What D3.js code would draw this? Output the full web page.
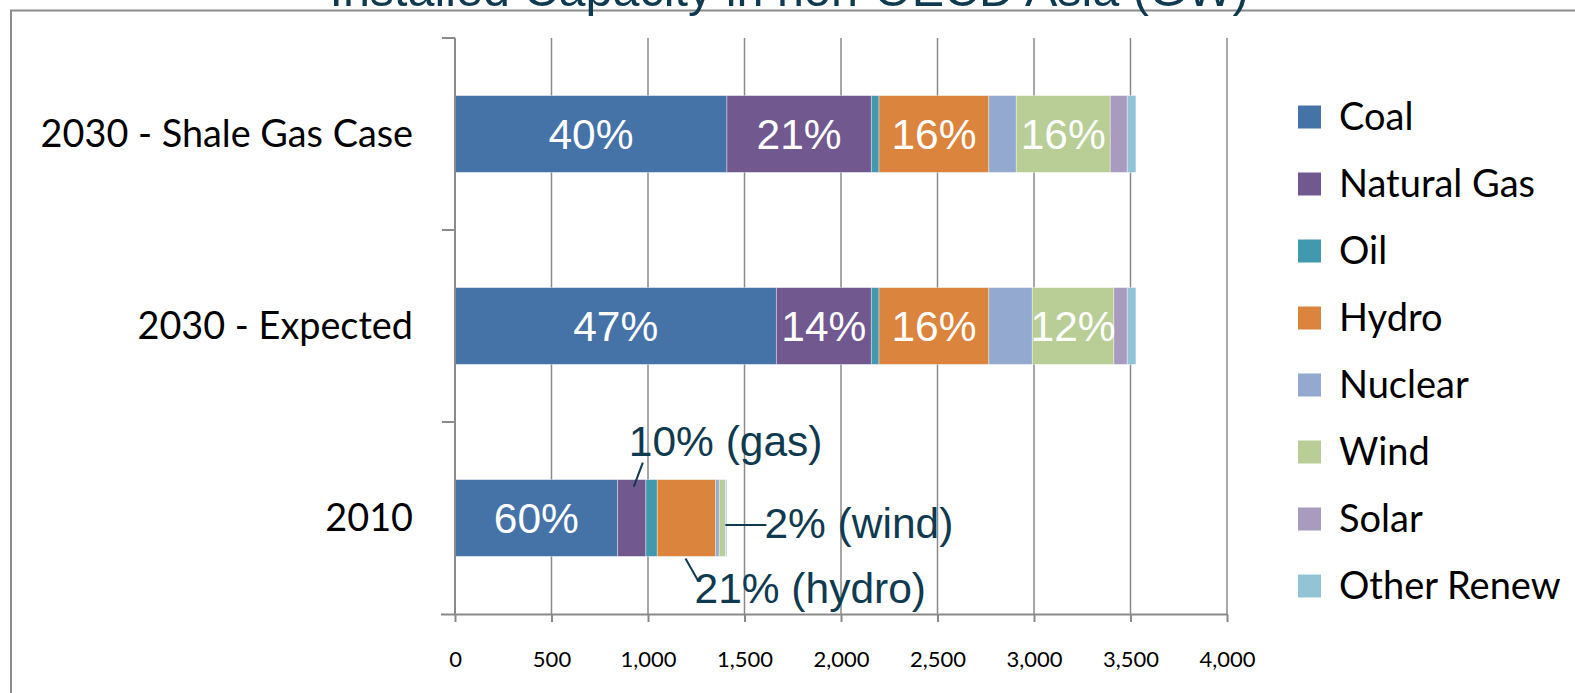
<!DOCTYPE html>
<html>
<head>
<meta charset="utf-8">
<script src="https://cdn.jsdelivr.net/npm/d3@7"></script>
<style>
  html, body { margin: 0; padding: 0; background: #fff; overflow: hidden; }
  svg { display: block; }
</style>
</head>
<body>
<svg id="chart" width="1575" height="693"></svg>
<script>
// Installed capacity (GW) by source, one value per category
const categories = ["2030 - Shale Gas Case", "2030 - Expected", "2010"];
const seriesNames = ["Coal", "Natural Gas", "Oil", "Hydro", "Nuclear", "Wind", "Solar", "Other Renew"];
const coal       = [1409, 1665, 843];
const naturalGas = [748, 492, 146];
const oil        = [40, 40, 59];
const hydro      = [569, 569, 303];
const nuclear    = [142, 225, 18];
const wind       = [487, 423, 33];
const solar      = [88, 69, 2];
const otherRenew = [45, 45, 5];
const seriesColors = ["#4572A7", "#71588F", "#4198AF", "#DB843D", "#93A9CF", "#B9CD96", "#A99BBD", "#92C4D6"];

// Share labels written inside the bars
const coalLabels  = ["40%", "47%", "60%"];
const gasLabels   = ["21%", "14%", ""];
const hydroLabels = ["16%", "16%", ""];
const windLabels  = ["16%", "12%", ""];

// Call-out labels for the 2010 bar
const calloutCategory = "2010";
const calloutSeries = ["Natural Gas", "Wind", "Hydro"];
const calloutText   = ["10% (gas)", "2% (wind)", "21% (hydro)"];

const xTicks = [0, 500, 1000, 1500, 2000, 2500, 3000, 3500, 4000];
const titleText = "Installed Capacity in non-OECD Asia (GW)";

const seriesValues = [coal, naturalGas, oil, hydro, nuclear, wind, solar, otherRenew];
const seriesLabels = [coalLabels, gasLabels, null, hydroLabels, null, windLabels, null, null];

const rows = categories.map((c, i) => {
  const r = { category: c };
  seriesNames.forEach((s, j) => { r[s] = seriesValues[j][i]; });
  return r;
});
const stacked = d3.stack().keys(seriesNames)(rows);

const svg = d3.select("#chart");
const plotTop = 38, plotBottom = 614;
const x = d3.scaleLinear().domain([0, 4000]).range([455, 1227]);
const y = d3.scaleBand().domain(categories).range([plotTop, plotBottom]).paddingInner(0.6).paddingOuter(0.3);
const color = d3.scaleOrdinal().domain(seriesNames).range(seriesColors);
const gridColor = "#8a8a8a";

// Outer chart frame
svg.append("path")
  .attr("d", "M11,700 V10.5 H1600")
  .attr("fill", "none").attr("stroke", "#8c8c8c").attr("stroke-width", 2);

// Title (partly above the frame)
svg.append("text")
  .attr("x", 789).attr("y", 6)
  .attr("text-anchor", "middle")
  .attr("font-family", "'Liberation Sans', Arial, sans-serif")
  .attr("font-size", 48.5)
  .attr("fill", "#0f3a4f")
  .text(titleText);

// Vertical gridlines
svg.append("g").selectAll("line").data(xTicks.slice(1)).join("line")
  .attr("x1", d => x(d)).attr("x2", d => x(d))
  .attr("y1", plotTop).attr("y2", plotBottom)
  .attr("stroke", gridColor).attr("stroke-width", 1.5);

// Stacked bars
const layers = svg.append("g").selectAll("g").data(stacked).join("g")
  .attr("fill", d => color(d.key));
layers.selectAll("rect").data(d => d).join("rect")
  .attr("x", d => x(d[0]))
  .attr("y", d => y(d.data.category))
  .attr("width", d => x(d[1]) - x(d[0]))
  .attr("height", y.bandwidth())
  .attr("stroke", "#ffffff").attr("stroke-opacity", 0.5).attr("stroke-width", 0.75);

// Bottom axis
const xAxis = svg.append("g")
  .attr("transform", `translate(0,${plotBottom})`)
  .call(d3.axisBottom(x).tickValues(xTicks).tickSize(8).tickPadding(29).tickFormat(d3.format(",")));
xAxis.select(".domain").attr("stroke", gridColor).attr("stroke-width", 2).attr("d", `M${x(0) - 14},0.5H${x(4000)}`);
xAxis.selectAll(".tick line").attr("stroke", gridColor).attr("stroke-width", 2);
xAxis.selectAll(".tick text")
  .attr("font-family", "Lato, 'Open Sans', sans-serif")
  .attr("font-size", 22).attr("fill", "#000");

// Category axis
const step = y.step();
const catBounds = [plotTop, plotTop + step, plotTop + 2 * step];
svg.append("line")
  .attr("x1", x(0)).attr("x2", x(0)).attr("y1", plotTop).attr("y2", plotBottom + 1)
  .attr("stroke", gridColor).attr("stroke-width", 2);
svg.append("g").selectAll("line").data(catBounds).join("line")
  .attr("x1", x(0) - 13).attr("x2", x(0)).attr("y1", d => d).attr("y2", d => d)
  .attr("stroke", gridColor).attr("stroke-width", 2);
svg.append("g").selectAll("text").data(categories).join("text")
  .attr("x", 413)
  .attr("y", d => y(d) + y.bandwidth() / 2)
  .attr("dy", "0.35em")
  .attr("text-anchor", "end")
  .attr("font-family", "Lato, 'Open Sans', sans-serif")
  .attr("font-size", 37.8).attr("fill", "#000")
  .text(d => d);

// Share labels inside bars
const labelFont = "'Liberation Sans', Arial, sans-serif";
const labelSize = 42.5;
stacked.forEach((layer, j) => {
  const labels = seriesLabels[j];
  if (!labels) return;
  svg.append("g").selectAll("text").data(layer.filter((d, i) => labels[i])).join("text")
    .attr("x", d => x((d[0] + d[1]) / 2))
    .attr("y", d => y(d.data.category) + y.bandwidth() / 2)
    .attr("dy", "0.36em")
    .attr("text-anchor", "middle")
    .attr("font-family", labelFont)
    .attr("font-size", labelSize).attr("fill", "#ffffff")
    .text(d => labels[categories.indexOf(d.data.category)]);
});

// Call-outs for the smaller 2010 segments
const ci = categories.indexOf(calloutCategory);
const seg = name => stacked[seriesNames.indexOf(name)][ci];
const mid = name => x((seg(name)[0] + seg(name)[1]) / 2);
const barTop = y(calloutCategory), barBot = barTop + y.bandwidth(), barMid = barTop + y.bandwidth() / 2;
const calloutColor = "#0f3a4f";
const callouts = [
  { text: calloutText[0], line: [[mid(calloutSeries[0]) + 11, barTop - 17], [mid(calloutSeries[0]) + 2, barTop + 7]], tx: mid(calloutSeries[0]) - 3, ty: barTop - 24 },
  { text: calloutText[1], line: [[mid(calloutSeries[1]) + 3, barMid + 7], [mid(calloutSeries[1]) + 44, barMid + 7]], tx: mid(calloutSeries[1]) + 42, ty: barMid + 20 },
  { text: calloutText[2], line: [[mid(calloutSeries[2]) - 1, barBot + 2], [mid(calloutSeries[2]) + 12, barBot + 25]], tx: mid(calloutSeries[2]) + 8, ty: barBot + 47 }
];
const co = svg.append("g");
co.selectAll("line").data(callouts).join("line")
  .attr("x1", d => d.line[0][0]).attr("y1", d => d.line[0][1])
  .attr("x2", d => d.line[1][0]).attr("y2", d => d.line[1][1])
  .attr("stroke", calloutColor).attr("stroke-width", 2);
co.selectAll("text").data(callouts).join("text")
  .attr("x", d => d.tx).attr("y", d => d.ty)
  .attr("font-family", labelFont)
  .attr("font-size", labelSize).attr("fill", calloutColor)
  .text(d => d.text);

// Legend
const legend = svg.append("g").attr("transform", "translate(1298,0)");
const legendY = d3.scalePoint().domain(seriesNames).range([117, 586]);
const items = legend.selectAll("g").data(seriesNames).join("g")
  .attr("transform", d => `translate(0,${legendY(d)})`);
items.append("rect")
  .attr("x", 0).attr("y", -11.5).attr("width", 23).attr("height", 23)
  .attr("fill", d => color(d));
items.append("text")
  .attr("x", 41).attr("dy", "0.35em")
  .attr("font-family", "Lato, 'Open Sans', sans-serif")
  .attr("font-size", 38).attr("fill", "#000")
  .text(d => d);
</script>
</body>
</html>
